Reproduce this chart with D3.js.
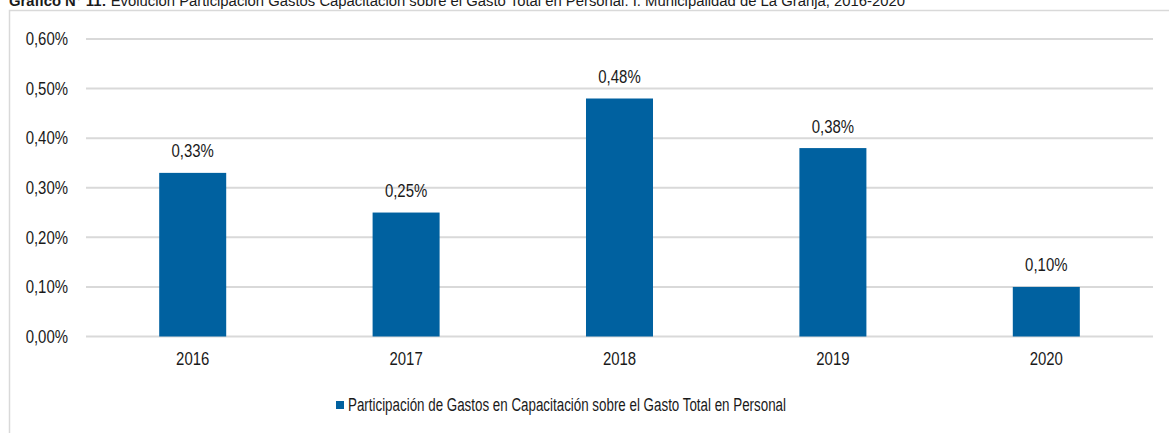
<!DOCTYPE html>
<html><head><meta charset="utf-8">
<script src="https://cdn.jsdelivr.net/npm/d3@7"></script>
<style>
html,body{margin:0;padding:0;background:#fff;}
svg text{font-family:"Liberation Sans",Arial,sans-serif;fill:#1a1a1a;}
</style></head>
<body>
<svg id="c" width="1169" height="433"></svg>
<script>
const categories = ["2016","2017","2018","2019","2020"];
const values = [0.33, 0.25, 0.48, 0.38, 0.10];
const yTicks = [0, 0.1, 0.2, 0.3, 0.4, 0.5, 0.6];
const seriesName = "Participación de Gastos en Capacitación sobre el Gasto Total en Personal";
const titleBold = "Gráfico N° 11:";
const titleRest = " Evolución Participación Gastos Capacitación sobre el Gasto Total en Personal. I. Municipalidad de La Granja, 2016-2020";

const fmt = v => d3.format(".2f")(v).replace(".", ",") + "%";
const svg = d3.select("#c");
const color = "#0061a0";
const NARROW = 0.83;
function narrow(sel, f) {
  sel.each(function() {
    const w = this.getComputedTextLength();
    d3.select(this).attr("textLength", w * f).attr("lengthAdjust", "spacingAndGlyphs");
  });
}

// frame
svg.append("rect").attr("x",9.5).attr("y",10.5).attr("width",1200).attr("height",500)
  .attr("fill","none").attr("stroke","#d9d9d9").attr("stroke-width",1.5);

// title
const t = svg.append("text").attr("x",9).attr("y",6).style("font-size","14.85px");
t.append("tspan").attr("font-weight","bold").text(titleBold);
t.append("tspan").text(titleRest);

const x = d3.scaleBand().domain(categories).range([86,1153]).paddingInner(0.686).paddingOuter(0.343);
const y = d3.scaleLinear().domain([0,0.6]).range([336.5,39]);

// grid
svg.append("g").selectAll("line").data(yTicks).join("line")
  .attr("x1",86).attr("x2",1153).attr("y1",d=>y(d)).attr("y2",d=>y(d))
  .attr("stroke","#d9d9d9").attr("stroke-width",2);

// y axis labels
const yAxis = d3.axisLeft(y).tickValues(yTicks).tickFormat(fmt).tickSize(0).tickPadding(0);
const gy = svg.append("g").attr("transform","translate(68,0)").call(yAxis);
gy.select(".domain").remove();
gy.selectAll("text").style("font-size","18px").attr("fill","#1a1a1a").call(narrow, NARROW);

// bars
svg.append("g").selectAll("rect").data(values).join("rect")
  .attr("x",(d,i)=>x(categories[i])).attr("width",x.bandwidth())
  .attr("y",d=>y(d)).attr("height",d=>y(0)-y(d)).attr("fill",color);

// value labels
svg.append("g").selectAll("text").data(values).join("text")
  .attr("x",(d,i)=>x(categories[i])+x.bandwidth()/2).attr("y",d=>y(d)-15.5)
  .attr("text-anchor","middle").style("font-size","18px").text(fmt).call(narrow, NARROW);

// x axis labels
const xAxis = d3.axisBottom(x).tickSize(0).tickPadding(0);
const gx = svg.append("g").attr("transform","translate(0,351)").call(xAxis);
gx.select(".domain").remove();
gx.selectAll("text").style("font-size","18px").attr("fill","#1a1a1a").attr("dy","0.75em").call(narrow, NARROW);

// legend
svg.append("rect").attr("x",336).attr("y",401).attr("width",8).attr("height",8).attr("fill",color);
svg.append("text").attr("x",348).attr("y",411).style("font-size","18px").text(seriesName)
  .attr("textLength",438).attr("lengthAdjust","spacingAndGlyphs");
</script>
</body></html>
